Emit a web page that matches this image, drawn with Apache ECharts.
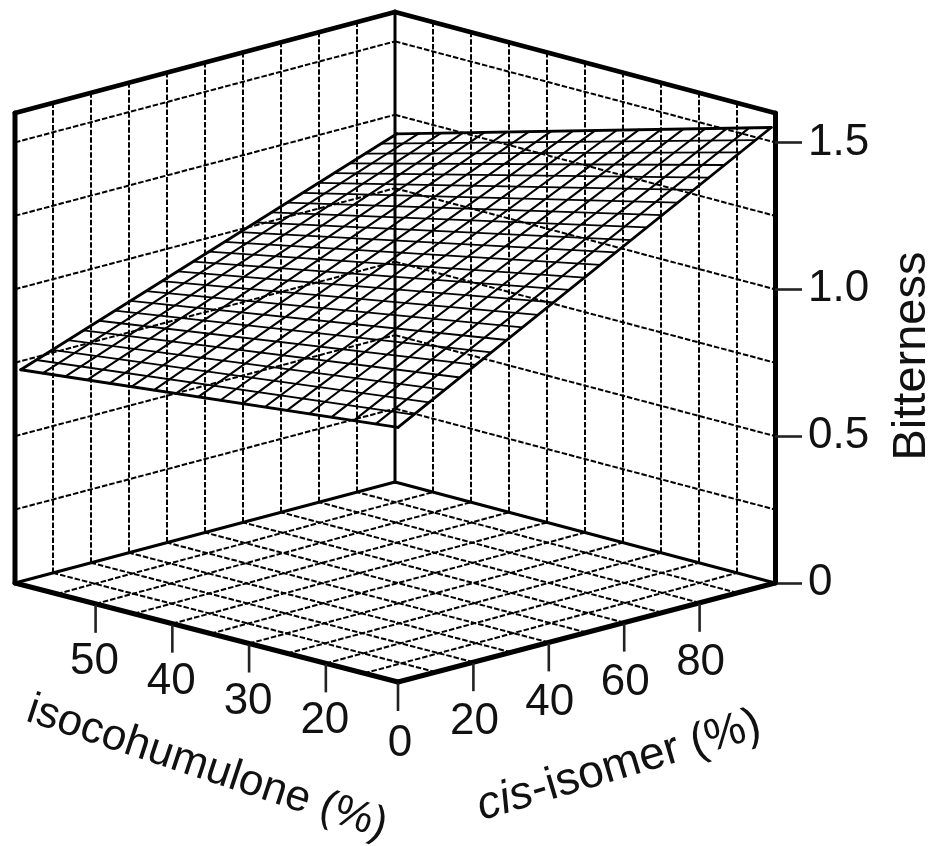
<!DOCTYPE html>
<html>
<head>
<meta charset="utf-8">
<style>html,body{margin:0;padding:0;background:#fff}#c{width:934px;height:846px}</style>
<script src="https://cdn.jsdelivr.net/npm/echarts@6/dist/echarts.min.js"></script>
</head>
<body>
<div id="c"></div>
<script>
// ---- axis ticks and labels ----
const cisTicks = [0, 20, 40, 60, 80];
const isoTicks = [20, 30, 40, 50];
const bitternessTicks = [0, 0.5, 1, 1.5];
const cisGrid = [10, 20, 30, 40, 50, 60, 70, 80, 90];
const isoGrid = [15, 20, 25, 30, 35, 40, 45, 50, 55];
const bitternessGrid = [0.25, 0.5, 0.75, 1, 1.25, 1.5];
const bitternessTop = 1.6;

// ---- response surface: mesh positions and bitterness along its four edges ----
const meshCis = [0, 4.125, 8.25, 12.375, 16.5, 20.625, 24.75, 28.875, 33, 37.125, 41.25, 45.375, 49.5,
  53.625, 57.75, 61.875, 66, 70.125, 74.25, 78.375, 82.5, 86.625, 90.75, 94.875, 99];
const meshIso = [10.6, 13.49, 16.38, 19.27, 22.16, 25.06, 27.95, 30.84, 33.73, 36.62, 39.51, 42.4,
  45.3, 48.19, 51.08, 53.97, 56.86, 59.75];
const bitternessLowIso = [0.867, 0.896, 0.924, 0.953, 0.981, 1.010, 1.039, 1.067, 1.096, 1.125, 1.153, 1.182,
  1.210, 1.239, 1.268, 1.296, 1.325, 1.353, 1.382, 1.411, 1.439, 1.468, 1.497, 1.525, 1.554];
const bitternessHighIso = [0.731, 0.750, 0.770, 0.789, 0.808, 0.827, 0.847, 0.866, 0.885, 0.905, 0.924, 0.943,
  0.963, 0.982, 1.001, 1.020, 1.040, 1.059, 1.078, 1.098, 1.117, 1.136, 1.155, 1.175, 1.194];
const bitternessLowCis = [0.867, 0.859, 0.851, 0.843, 0.835, 0.827, 0.819, 0.811, 0.803, 0.795, 0.787, 0.779,
  0.771, 0.763, 0.755, 0.747, 0.739, 0.731];
const bitternessHighCis = [1.554, 1.533, 1.512, 1.490, 1.469, 1.448, 1.427, 1.406, 1.384, 1.363, 1.342, 1.321,
  1.300, 1.279, 1.257, 1.236, 1.215, 1.194];

// ---- box view: floor outline in plot fractions (x) and bitterness-height offsets (y) ----
const G = { left: 15, right: 775, top: 113, bottom: 583 };
const FLOOR = { front: [383 / 760, -99 / 293.75], right: [1, 0], left: [0, 0], back: [380 / 760, 101 / 293.75] };
const ISO_NEAR = [10.6, 60.5], ISO_FAR = [10, 60];
const FONT = '"Liberation Sans", Arial, sans-serif';
const INK = '#000';

function isoFrac(i, a) {
  const lo = ISO_NEAR[0] + (ISO_FAR[0] - ISO_NEAR[0]) * a;
  const hi = ISO_NEAR[1] + (ISO_FAR[1] - ISO_NEAR[1]) * a;
  return (i - lo) / (hi - lo);
}
function view(a, b, z) {
  const w = [(1 - a) * (1 - b), a * (1 - b), (1 - a) * b, a * b];
  const c = [FLOOR.front, FLOOR.right, FLOOR.left, FLOOR.back];
  let x = 0, y = z;
  for (let n = 0; n < 4; n++) { x += w[n] * c[n][0]; y += w[n] * c[n][1]; }
  return [x, y];
}
function gridPoint(cis, iso, z) { const a = cis / 100; return view(a, isoFrac(iso, a), z); }
function meshPoint(cis, iso, z) { return view(cis / 100, isoFrac(iso, 0), z); }

// each segment: [cis1, iso1, z1, cis2, iso2, z2]
const LB = [0, ISO_NEAR[1]], BK = [100, ISO_FAR[1]], RT = [100, ISO_FAR[0]], FR = [0, ISO_NEAR[0]];
const dashedSegs = [];
cisGrid.forEach(c => {
  const h = ISO_NEAR[1] + (ISO_FAR[1] - ISO_NEAR[1]) * c / 100;
  const l = ISO_NEAR[0] + (ISO_FAR[0] - ISO_NEAR[0]) * c / 100;
  dashedSegs.push([c, h, 0, c, h, bitternessTop]);   // far-left wall
  dashedSegs.push([c, l, 0, c, h, 0]);               // floor
});
isoGrid.forEach(i => {
  dashedSegs.push([100, i, 0, 100, i, bitternessTop]); // far-right wall
  dashedSegs.push([0, i, 0, 100, i, 0]);               // floor
});
bitternessGrid.forEach(z => {
  dashedSegs.push([LB[0], LB[1], z, BK[0], BK[1], z]);
  dashedSegs.push([BK[0], BK[1], z, RT[0], RT[1], z]);
});
const frameSegs = [
  [BK[0], BK[1], 0, BK[0], BK[1], bitternessTop, 3],
  [LB[0], LB[1], 0, BK[0], BK[1], 0, 3],
  [BK[0], BK[1], 0, RT[0], RT[1], 0, 3.2],
  [LB[0], LB[1], 0, FR[0], FR[1], 0, 5],
  [FR[0], FR[1], 0, RT[0], RT[1], 0, 5],
  [LB[0], LB[1], 0, LB[0], LB[1], bitternessTop, 5],
  [LB[0], LB[1], bitternessTop, BK[0], BK[1], bitternessTop, 4.8],
  [BK[0], BK[1], bitternessTop, RT[0], RT[1], bitternessTop, 4.8]
];
const meshSegs = [];
meshCis.forEach((c, k) => meshSegs.push([c, meshIso[0], bitternessLowIso[k], c, meshIso[meshIso.length - 1], bitternessHighIso[k],
  (k === 0 || k === meshCis.length - 1) ? 2.8 : 1.8]));
meshIso.forEach((i, k) => meshSegs.push([meshCis[0], i, bitternessLowCis[k], meshCis[meshCis.length - 1], i, bitternessHighCis[k],
  (k === 0 || k === meshIso.length - 1) ? 2.8 : 2.1]));

function segSeries(segs, point, dash, z) {
  return {
    type: 'custom', coordinateSystem: 'cartesian2d', silent: true, z: z, clip: false,
    data: segs.map(s => s.slice(0, 6)),
    renderItem(p, api) {
      const s = segs[p.dataIndex];
      const a = api.coord(point(s[0], s[1], s[2])), b = api.coord(point(s[3], s[4], s[5]));
      return {
        type: 'line',
        shape: { x1: a[0], y1: a[1], x2: b[0], y2: b[1] },
        style: { stroke: INK, lineWidth: s[6] || 2, lineDash: dash || null, lineCap: dash ? 'butt' : 'round', fill: null }
      };
    }
  };
}
function tickSeries(items) {
  return {
    type: 'custom', coordinateSystem: 'cartesian2d', silent: true, z: 6, clip: false,
    data: items.map(t => [t.cis, t.iso]),
    renderItem(p, api) {
      const t = items[p.dataIndex];
      const a = api.coord(gridPoint(t.cis, t.iso, 0));
      return {
        type: 'group',
        children: [
          { type: 'line', shape: { x1: a[0], y1: a[1] + 1, x2: a[0], y2: a[1] + 29 }, style: { stroke: '#222', lineWidth: 2.6 } },
          { type: 'text', x: a[0] + t.dx, y: a[1] + t.dy,
            style: { text: t.label, font: '44px ' + FONT, fill: '#111', align: 'center', verticalAlign: 'middle' } }
        ]
      };
    }
  };
}
const isoItems = isoTicks.map(v => ({ cis: 0, iso: v, label: String(v), dx: -1, dy: 58 }));
const cisItems = cisTicks.map(v => ({ cis: v, iso: v === 0 ? ISO_NEAR[0] : ISO_NEAR[0] - 0.6 * v / 100, label: String(v), dx: v === 0 ? 2 : 1, dy: v === 0 ? 62 : 60 }));

const chart = echarts.init(document.getElementById('c'), null, { renderer: 'canvas' });
chart.setOption({
  animation: false,
  backgroundColor: '#fff',
  grid: { left: G.left, right: 934 - G.right, top: G.top, bottom: 846 - G.bottom, containLabel: false },
  xAxis: { type: 'value', min: 0, max: 1, show: false },
  yAxis: {
    type: 'value', min: 0, max: bitternessTop, position: 'right',
    axisLine: { show: true, onZero: false, lineStyle: { color: INK, width: 5, cap: 'round' } },
    axisTick: { show: true, customValues: bitternessTicks, length: 27, lineStyle: { color: '#222', width: 2.6 } },
    axisLabel: { show: true, customValues: bitternessTicks, margin: 33, fontFamily: 'Liberation Sans', fontSize: 44, color: '#111',
      formatter: v => v === 0 ? '0' : v.toFixed(1) },
    splitLine: { show: false }
  },
  graphic: [
    { type: 'text', x: 912, y: 356, rotation: Math.PI / 2,
      style: { text: 'Bitterness', font: '47px ' + FONT, fill: '#111', align: 'center', verticalAlign: 'middle' } },
    { type: 'text', x: 207, y: 768, rotation: -0.32,
      style: { text: 'isocohumulone (%)', font: '44px ' + FONT, fill: '#111', align: 'center', verticalAlign: 'middle' } },
    { type: 'text', x: 619, y: 766, rotation: 0.29,
      style: { text: '{i|cis}{r|-isomer (%)}', align: 'center', verticalAlign: 'middle',
        rich: { i: { fontStyle: 'italic', fontFamily: 'Liberation Sans', fontSize: 46, fill: '#111' },
                r: { fontFamily: 'Liberation Sans', fontSize: 46, fill: '#111' } } } }
  ],
  series: [
    segSeries(dashedSegs, gridPoint, [5.5, 2], 2),
    segSeries(frameSegs, gridPoint, null, 3),
    segSeries(meshSegs, meshPoint, null, 4),
    tickSeries(isoItems),
    tickSeries(cisItems)
  ]
});
</script>
</body>
</html>
